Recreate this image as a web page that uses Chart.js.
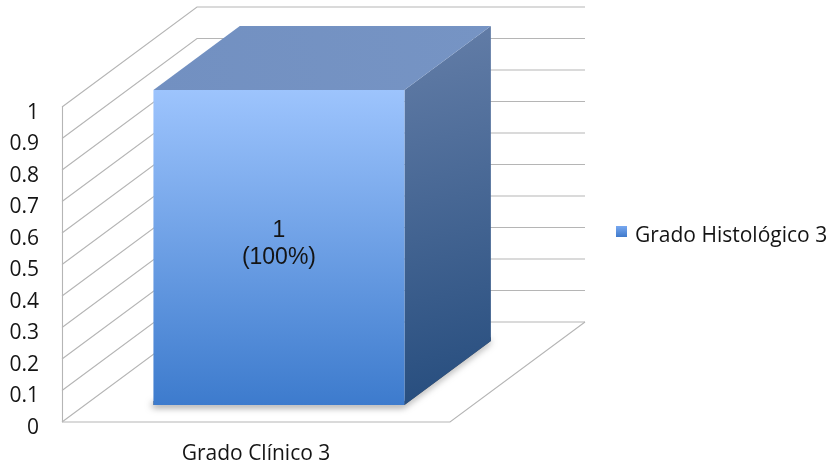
<!DOCTYPE html>
<html><head><meta charset="utf-8">
<script src="https://cdn.jsdelivr.net/npm/chart.js@4/dist/chart.umd.min.js"></script>
<style>html,body{margin:0;padding:0;background:#fff}#wrap{width:830px;height:465px}</style>
</head><body><div id="wrap"><canvas id="c" width="830" height="465"></canvas></div>
<script>
// ---- data ----
const categories = ['Grado Clínico 3'];
const seriesName = 'Grado Histológico 3';
const seriesValues = [1];
const seriesPercents = ['100%'];
const yTickValues = [0, 0.1, 0.2, 0.3, 0.4, 0.5, 0.6, 0.7, 0.8, 0.9, 1];

// ---- 3D style ----
const DX = 135, DY = -100;          // depth of the plot box
const BAR_F0 = 0.17, BAR_F1 = 0.81; // bar front/back depth fractions
const GRID = '#b5b5b5';
const TEXT = '#141414';
const FONT = '"Open Sans", sans-serif';

function line(ctx, pts){ctx.beginPath();ctx.moveTo(pts[0][0],pts[0][1]);for(let i=1;i<pts.length;i++)ctx.lineTo(pts[i][0],pts[i][1]);ctx.stroke();}
function poly(ctx, pts){ctx.beginPath();ctx.moveTo(pts[0][0],pts[0][1]);for(let i=1;i<pts.length;i++)ctx.lineTo(pts[i][0],pts[i][1]);ctx.closePath();}

const bar3d = {
  id: 'bar3d',
  beforeDatasetsDraw(chart){
    const ctx = chart.ctx, {left,right,bottom} = chart.chartArea, ys = chart.scales.y;
    ctx.save();
    ctx.strokeStyle = GRID; ctx.lineWidth = 1.1;
    // left wall front edge
    line(ctx, [[left+0.5, ys.getPixelForValue(1)], [left+0.5, bottom]]);
    // wall gridlines
    yTickValues.forEach(v => {
      const y = ys.getPixelForValue(v);
      line(ctx, [[left, y], [left+DX, y+DY], [right+DX, y+DY]]);
    });
    // floor
    line(ctx, [[left, bottom], [right, bottom], [right+DX, bottom+DY]]);
    // bars
    const meta = chart.getDatasetMeta(0);
    meta.data.forEach((el, i) => {
      const x0 = el.x - el.width/2 + DX*BAR_F0, x1 = el.x + el.width/2 + DX*BAR_F0;
      const ty = el.y + DY*BAR_F0, by = el.base + DY*BAR_F0;
      const bx = DX*(BAR_F1-BAR_F0), bdy = DY*(BAR_F1-BAR_F0);
      // shadow
      ctx.save();
      ctx.shadowColor = 'rgba(0,0,0,0.55)'; ctx.shadowBlur = 7; ctx.shadowOffsetX = -1; ctx.shadowOffsetY = 2;
      ctx.fillStyle = '#555';
      poly(ctx, [[x0, by-4], [x1, by-4], [x1+bx, by+bdy-4], [x1+bx, by+bdy], [x1, by], [x0, by]]);
      ctx.fill();
      ctx.restore();
      // side face
      let g = ctx.createLinearGradient(x1, ty+bdy, x1+bx, by);
      g.addColorStop(0, '#647ea8'); g.addColorStop(1, '#254c7d');
      ctx.fillStyle = g;
      poly(ctx, [[x1, ty], [x1+bx, ty+bdy], [x1+bx, by+bdy], [x1, by]]); ctx.fill();
      // top face
      g = ctx.createLinearGradient(x0, ty, x1+bx, ty+bdy);
      g.addColorStop(0, '#7290c1'); g.addColorStop(1, '#7694c4');
      ctx.fillStyle = g;
      poly(ctx, [[x0, ty], [x1, ty], [x1+bx, ty+bdy], [x0+bx, ty+bdy]]); ctx.fill();
      // front face
      g = ctx.createLinearGradient(0, ty, 0, by);
      g.addColorStop(0, '#9dc4fd'); g.addColorStop(1, '#3d7bcd');
      ctx.fillStyle = g;
      ctx.fillRect(x0, ty, x1-x0, by-ty);
      // data label
      const cx = (x0+x1)/2, cy = (ty+by)/2;
      ctx.fillStyle = TEXT; ctx.font = '23px "Liberation Sans", Arial, sans-serif';
      ctx.textAlign = 'center'; ctx.textBaseline = 'middle';
      ctx.fillText(String(seriesValues[i]), cx, cy-17);
      ctx.fillText('(' + seriesPercents[i] + ')', cx, cy+10);
    });
    ctx.restore();
    return false;
  },
  afterDraw(chart){
    const ctx = chart.ctx;
    ctx.save();
    const g = ctx.createLinearGradient(0, 226, 0, 237);
    g.addColorStop(0, '#78a8f0'); g.addColorStop(1, '#3f7acb');
    ctx.fillStyle = g; ctx.fillRect(616, 226, 11, 11);
    ctx.fillStyle = TEXT; ctx.font = '21px ' + FONT;
    ctx.textAlign = 'left'; ctx.textBaseline = 'alphabetic';
    ctx.fillText(seriesName, 635, 241.5);
    ctx.restore();
  }
};

new Chart(document.getElementById('c'), {
  type: 'bar',
  data: {
    labels: categories,
    datasets: [{ label: seriesName, data: seriesValues, backgroundColor: '#4a85d6',
                 barPercentage: 0.647, categoryPercentage: 1 }]
  },
  options: {
    responsive: false, animation: false, devicePixelRatio: 1,
    layout: { padding: { left: 0, right: 380, top: 107, bottom: 0 } },
    plugins: { legend: { display: false }, tooltip: { enabled: false } },
    scales: {
      x: {
        grid: { display: false, drawTicks: false }, border: { display: false },
        ticks: { color: TEXT, font: { family: FONT, size: 21 }, padding: 19 },
        afterFit(s){ s.height = 43; }
      },
      y: {
        min: 0, max: 1,
        afterBuildTicks(s){ s.ticks = yTickValues.map(v => ({ value: v })); },
        grid: { display: false, drawTicks: false }, border: { display: false },
        ticks: { color: TEXT, font: { family: FONT, size: 21 }, padding: 23, labelOffset: 6,
                 callback: v => String(v) },
        afterFit(s){ s.width = 62; }
      }
    }
  },
  plugins: [bar3d]
});
</script></body></html>
